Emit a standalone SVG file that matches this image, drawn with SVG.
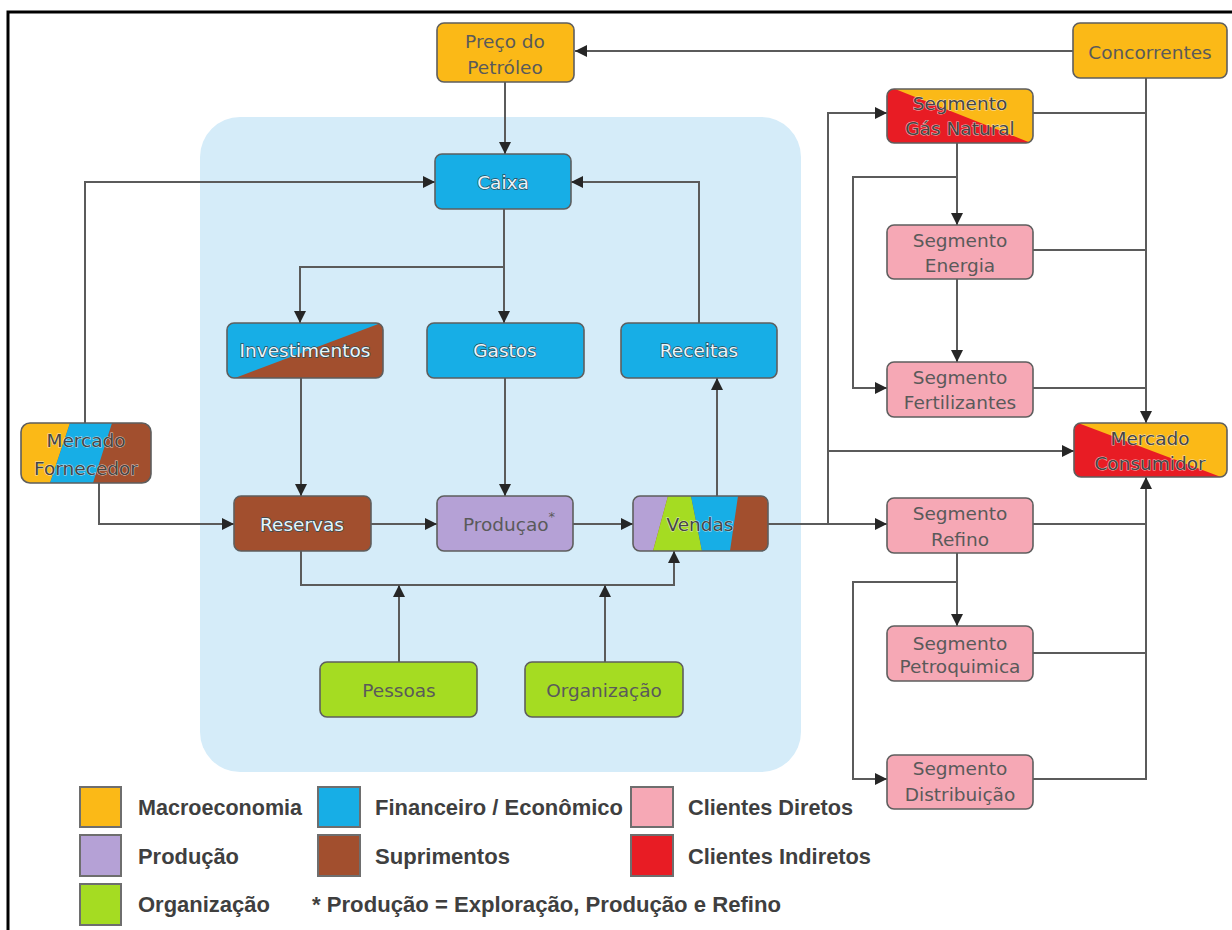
<svg xmlns="http://www.w3.org/2000/svg" width="1232" height="930" viewBox="0 0 1232 930">
  <style>
    .box{stroke:#5e5e5e;stroke-width:1.6}
    .yel{fill:#FBB917}
    .blu{fill:#17AEE6}
    .brn{fill:#A24F2E}
    .pur{fill:#B5A1D6}
    .grn{fill:#A5DC22}
    .pnk{fill:#F6A8B5}
    .red{fill:#E81C24}
    .lbl{font-family:"DejaVu Sans",sans-serif;font-size:18.5px;text-anchor:middle;fill:#5a5a5a}
    .lbl-w{font-family:"DejaVu Sans",sans-serif;font-size:18.5px;text-anchor:middle;fill:#e9f6fb;stroke:#2f4b57;stroke-width:1.3;paint-order:stroke}
    .lbl-h{font-family:"DejaVu Sans",sans-serif;font-size:18.5px;text-anchor:middle;fill:#454545;stroke:#f2f2f2;stroke-width:1;stroke-opacity:0.75;paint-order:stroke}
    .wire{fill:none;stroke:#5b5b5b;stroke-width:2}
    .arr{marker-end:url(#head)}
    .key{stroke:#6e6e6e;stroke-width:2}
    .leg{font-family:"Liberation Sans",Arial,sans-serif;font-size:22px;font-weight:bold;fill:#3f3f3f}
  </style>
  <defs>
    <marker id="head" markerUnits="userSpaceOnUse" markerWidth="12" markerHeight="12" refX="12" refY="6" orient="auto">
      <path d="M0,0 L12,6 L0,12 z" fill="#262626"/>
    </marker>
    <clipPath id="c-gas"><rect x="887" y="89" width="146" height="54" rx="7"/></clipPath>
    <clipPath id="c-mc"><rect x="1074" y="423" width="153" height="54" rx="7"/></clipPath>
    <clipPath id="c-inv"><rect x="227" y="323" width="156" height="55" rx="7"/></clipPath>
    <clipPath id="c-mf"><rect x="21" y="423" width="130" height="60" rx="9"/></clipPath>
    <clipPath id="c-ven"><rect x="633" y="496" width="135" height="55" rx="7"/></clipPath>
  </defs>

  <rect width="1232" height="930" fill="#ffffff"/>
  <!-- frame -->
  <path d="M8,930 V12 H1232" fill="none" stroke="#000" stroke-width="3"/>

  <!-- company panel -->
  <rect x="200" y="117" width="601" height="655" rx="40" fill="#D5ECF9"/>

  <!-- connectors -->
  <g id="connectors">
    <path class="wire arr" d="M1073,51 H575"/>
    <path class="wire arr" d="M505,82 V154"/>
    <path class="wire arr" d="M85,423 V182 H435"/>
    <path class="wire arr" d="M699,323 V182 H571"/>
    <path class="wire arr" d="M504,209 V267 H300 V323"/>
    <path class="wire arr" d="M504,267 V323"/>
    <path class="wire arr" d="M301,378 V496"/>
    <path class="wire arr" d="M505,378 V496"/>
    <path class="wire arr" d="M99,483 V524 H234"/>
    <path class="wire arr" d="M371,524 H437"/>
    <path class="wire arr" d="M573,524 H633"/>
    <path class="wire arr" d="M717,496 V378"/>
    <path class="wire arr" d="M301,551 V585 H674 V551"/>
    <path class="wire arr" d="M399,662 V585"/>
    <path class="wire arr" d="M605,662 V585"/>
    <path class="wire arr" d="M768,524 H887"/>
    <path class="wire arr" d="M828,524 V113 H887"/>
    <path class="wire arr" d="M828,451 H1074"/>
    <path class="wire arr" d="M957,143 V225"/>
    <path class="wire arr" d="M957,177 H853 V388 H887"/>
    <path class="wire arr" d="M957,279 V362"/>
    <path class="wire arr" d="M1146,78 V423"/>
    <path class="wire" d="M1033,113 H1146"/>
    <path class="wire" d="M1033,250 H1146"/>
    <path class="wire" d="M1033,388 H1146"/>
    <path class="wire" d="M1033,524 H1146"/>
    <path class="wire" d="M1033,653 H1146"/>
    <path class="wire arr" d="M1033,779 H1146 V477"/>
    <path class="wire arr" d="M957,553 V626"/>
    <path class="wire arr" d="M957,582 H853 V779 H887"/>
  </g>

  <!-- nodes -->
  <g id="preco">
    <rect class="box yel" x="437" y="23" width="137" height="59" rx="7"/>
    <text class="lbl" x="505" y="48">Preço do</text>
    <text class="lbl" x="505" y="74">Petróleo</text>
  </g>
  <g id="concorrentes">
    <rect class="box yel" x="1073" y="23" width="154" height="55" rx="7"/>
    <text class="lbl" x="1150" y="59">Concorrentes</text>
  </g>
  <g id="caixa">
    <rect class="box blu" x="435" y="154" width="136" height="55" rx="7"/>
    <text class="lbl-w" x="503" y="189">Caixa</text>
  </g>
  <g id="investimentos">
    <g clip-path="url(#c-inv)">
      <rect class="blu" x="227" y="323" width="156" height="55"/>
      <polygon class="brn" points="235,378 381,323 383,323 383,378"/>
    </g>
    <rect class="box" fill="none" x="227" y="323" width="156" height="55" rx="7"/>
    <text class="lbl-w" x="305" y="357">Investimentos</text>
  </g>
  <g id="gastos">
    <rect class="box blu" x="427" y="323" width="157" height="55" rx="7"/>
    <text class="lbl-w" x="505" y="357">Gastos</text>
  </g>
  <g id="receitas">
    <rect class="box blu" x="621" y="323" width="156" height="55" rx="7"/>
    <text class="lbl-w" x="699" y="357">Receitas</text>
  </g>
  <g id="mercado-fornecedor">
    <g clip-path="url(#c-mf)">
      <rect class="brn" x="21" y="423" width="130" height="60"/>
      <polygon class="yel" points="21,423 70,423 50,483 21,483"/>
      <polygon class="blu" points="70,423 112,423 93,483 50,483"/>
    </g>
    <rect class="box" fill="none" x="21" y="423" width="130" height="60" rx="9"/>
    <text class="lbl-h" x="86" y="447">Mercado</text>
    <text class="lbl-h" x="86" y="475">Fornecedor</text>
  </g>
  <g id="reservas">
    <rect class="box brn" x="234" y="496" width="137" height="55" rx="7"/>
    <text class="lbl-w" x="302" y="531">Reservas</text>
  </g>
  <g id="producao">
    <rect class="box pur" x="437" y="496" width="136" height="55" rx="7"/>
    <text class="lbl" x="509" y="531">Produçao<tspan font-size="13" dy="-10">*</tspan></text>
  </g>
  <g id="vendas">
    <g clip-path="url(#c-ven)">
      <rect class="brn" x="633" y="496" width="135" height="55"/>
      <polygon class="pur" points="633,496 668,496 653,551 633,551"/>
      <polygon class="grn" points="668,496 691,496 702,551 653,551"/>
      <polygon class="blu" points="691,496 738,496 730,551 702,551"/>
    </g>
    <rect class="box" fill="none" x="633" y="496" width="135" height="55" rx="7"/>
    <text class="lbl-h" x="700" y="531">Vendas</text>
  </g>
  <g id="pessoas">
    <rect class="box grn" x="320" y="662" width="157" height="55" rx="7"/>
    <text class="lbl" x="399" y="697">Pessoas</text>
  </g>
  <g id="organizacao">
    <rect class="box grn" x="525" y="662" width="158" height="55" rx="7"/>
    <text class="lbl" x="604" y="697">Organização</text>
  </g>
  <g id="seg-gas-natural">
    <g clip-path="url(#c-gas)">
      <rect class="yel" x="887" y="89" width="146" height="54"/>
      <polygon class="red" points="887,89 895,89 1031,143 887,143"/>
    </g>
    <rect class="box" fill="none" x="887" y="89" width="146" height="54" rx="7"/>
    <text class="lbl-h" x="960" y="110">Segmento</text>
    <text class="lbl-h" x="960" y="135">Gás Natural</text>
  </g>
  <g id="seg-energia">
    <rect class="box pnk" x="887" y="225" width="146" height="54" rx="7"/>
    <text class="lbl" x="960" y="247">Segmento</text>
    <text class="lbl" x="960" y="272">Energia</text>
  </g>
  <g id="seg-fertilizantes">
    <rect class="box pnk" x="887" y="362" width="146" height="55" rx="7"/>
    <text class="lbl" x="960" y="384">Segmento</text>
    <text class="lbl" x="960" y="409">Fertilizantes</text>
  </g>
  <g id="mercado-consumidor">
    <g clip-path="url(#c-mc)">
      <rect class="yel" x="1074" y="423" width="153" height="54"/>
      <polygon class="red" points="1074,423 1078,423 1221,477 1074,477"/>
    </g>
    <rect class="box" fill="none" x="1074" y="423" width="153" height="54" rx="7"/>
    <text class="lbl-h" x="1150" y="445">Mercado</text>
    <text class="lbl-h" x="1150" y="470">Consumidor</text>
  </g>
  <g id="seg-refino">
    <rect class="box pnk" x="887" y="498" width="146" height="55" rx="7"/>
    <text class="lbl" x="960" y="520">Segmento</text>
    <text class="lbl" x="960" y="546">Refino</text>
  </g>
  <g id="seg-petroquimica">
    <rect class="box pnk" x="887" y="626" width="146" height="55" rx="7"/>
    <text class="lbl" x="960" y="650">Segmento</text>
    <text class="lbl" x="960" y="673">Petroquimica</text>
  </g>
  <g id="seg-distribuicao">
    <rect class="box pnk" x="887" y="755" width="146" height="54" rx="7"/>
    <text class="lbl" x="960" y="775">Segmento</text>
    <text class="lbl" x="960" y="801">Distribuição</text>
  </g>

  <!-- legend -->
  <g id="legend">
    <rect class="key yel" x="80" y="787" width="41" height="40"/>
    <rect class="key pur" x="80" y="835" width="41" height="41"/>
    <rect class="key grn" x="80" y="884" width="41" height="41"/>
    <rect class="key blu" x="318" y="787" width="42" height="40"/>
    <rect class="key brn" x="318" y="835" width="42" height="41"/>
    <rect class="key pnk" x="631" y="787" width="42" height="40"/>
    <rect class="key red" x="631" y="835" width="42" height="41"/>
    <text class="leg" x="138" y="815" textLength="164" lengthAdjust="spacingAndGlyphs">Macroeconomia</text>
    <text class="leg" x="138" y="864" textLength="101" lengthAdjust="spacingAndGlyphs">Produção</text>
    <text class="leg" x="138" y="912" textLength="132" lengthAdjust="spacingAndGlyphs">Organização</text>
    <text class="leg" x="375" y="815" textLength="248" lengthAdjust="spacingAndGlyphs">Financeiro / Econômico</text>
    <text class="leg" x="375" y="864" textLength="135" lengthAdjust="spacingAndGlyphs">Suprimentos</text>
    <text class="leg" x="688" y="815" textLength="165" lengthAdjust="spacingAndGlyphs">Clientes Diretos</text>
    <text class="leg" x="688" y="864" textLength="183" lengthAdjust="spacingAndGlyphs">Clientes Indiretos</text>
    <text class="leg" x="312" y="912" textLength="469" lengthAdjust="spacingAndGlyphs">* Produção = Exploração, Produção e Refino</text>
  </g>
</svg>
